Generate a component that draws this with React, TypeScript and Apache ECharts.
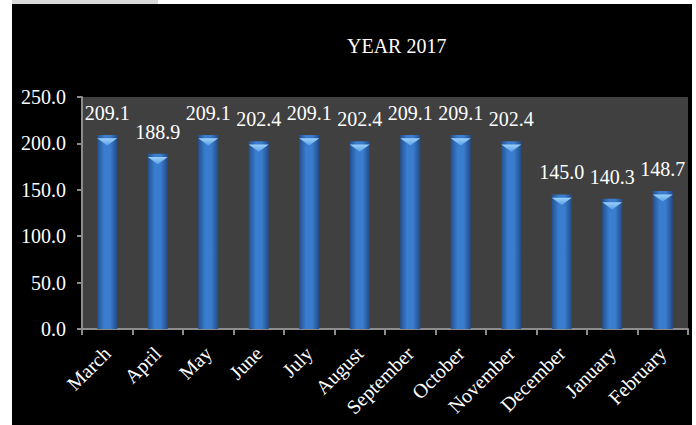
import React, { useEffect, useRef } from "react";
import * as echarts from "echarts";

const categories = ["March", "April", "May", "June", "July", "August", "September", "October", "November", "December", "January", "February"];
const values = [209.1, 188.9, 209.1, 202.4, 209.1, 202.4, 209.1, 209.1, 202.4, 145.0, 140.3, 148.7];
const yTicks = { min: 0, max: 250, interval: 50 };
const titleText = "YEAR 2017";

const FONT = "'Liberation Serif', 'Times New Roman', serif";

export default function App() {
  const ref = useRef<HTMLDivElement>(null);
  useEffect(() => {
    if (!ref.current) return;
    const chart = echarts.init(ref.current, undefined, { renderer: "svg" });
    chart.setOption({
      animation: false,
      backgroundColor: "transparent",
      title: {
        text: titleText,
        left: 342,
        top: 31,
        textStyle: { color: "#ffffff", fontFamily: FONT, fontSize: 20, fontWeight: "normal" },
      },
      grid: {
        left: 82,
        right: 8,
        top: 97,
        bottom: 96,
        show: true,
        backgroundColor: "#404040",
        borderWidth: 0,
      },
      xAxis: {
        type: "category",
        data: categories,
        axisLine: { show: true, lineStyle: { color: "#8c8c8c", width: 2 } },
        axisTick: { show: true, length: 6, alignWithLabel: false, lineStyle: { color: "#8c8c8c", width: 2 } },
        axisLabel: {
          interval: 0,
          rotate: 45,
          margin: 21,
          color: "#ffffff",
          fontFamily: FONT,
          fontSize: 20,
        },
      },
      yAxis: {
        type: "value",
        min: yTicks.min,
        max: yTicks.max,
        interval: yTicks.interval,
        splitLine: { show: false },
        axisLine: { show: true, lineStyle: { color: "#8c8c8c", width: 2 } },
        axisTick: { show: true, length: 5, lineStyle: { color: "#8c8c8c", width: 2 } },
        axisLabel: {
          margin: 16,
          color: "#ffffff",
          fontFamily: FONT,
          fontSize: 20,
          formatter: (v: number) => v.toFixed(1),
        },
      },
      series: [
        {
          type: "bar",
          data: values,
          barWidth: 20,
          itemStyle: {
            color: new echarts.graphic.LinearGradient(0, 0, 1, 0, [
              { offset: 0, color: "#23508f" },
              { offset: 0.35, color: "#3a7ed0" },
              { offset: 0.65, color: "#3a7cce" },
              { offset: 1, color: "#214a86" },
            ]),
          },
          label: {
            show: true,
            position: "top",
            distance: 12,
            color: "#ffffff",
            fontFamily: FONT,
            fontSize: 20,
            formatter: (p: any) => Number(p.value).toFixed(1),
          },
          z: 2,
        },
        {
          type: "pictorialBar",
          data: values,
          barWidth: 20,
          barGap: "-100%",
          symbol: "path://M0,0 L20,0 L10,6 Z",
          symbolSize: [20, 7],
          symbolPosition: "end",
          symbolOffset: [0, "50%"],
          itemStyle: {
            color: new echarts.graphic.LinearGradient(0, 0, 0, 1, [
              { offset: 0, color: "#9bd0fa" },
              { offset: 1, color: "#5aa0e6" },
            ]),
          },
          silent: true,
          z: 3,
        },
      ],
    });
    return () => chart.dispose();
  }, []);

  return (
    <div style={{ position: "absolute", left: 0, top: 0, width: 696, height: 425, background: "#ffffff" }}>
      <div style={{ position: "absolute", left: 12, top: 0, width: 146, height: 4, background: "#d9d9d9" }} />
      <div style={{ position: "absolute", left: 12, top: 4, width: 680, height: 421, background: "#000000" }} />
      <div ref={ref} style={{ position: "absolute", left: 0, top: 0, width: 696, height: 425 }} />
    </div>
  );
}
